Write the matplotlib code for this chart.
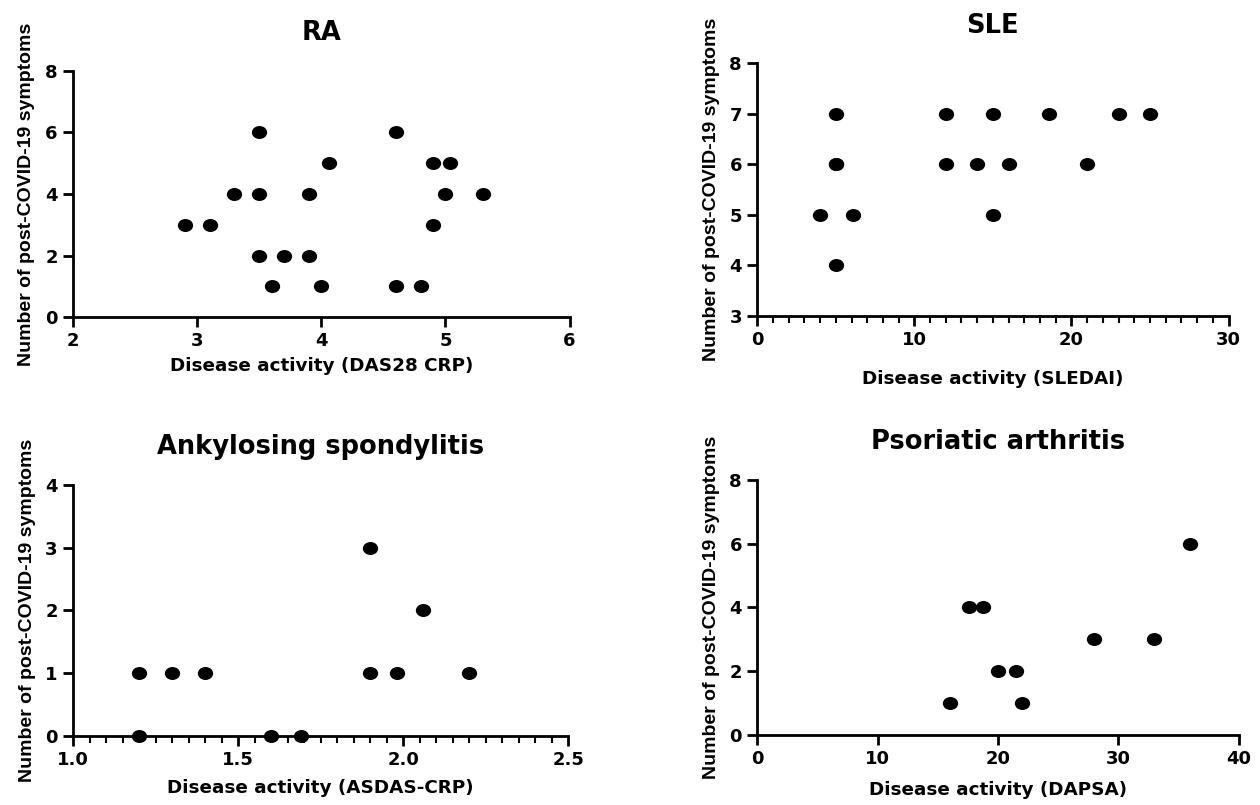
import numpy as np
import matplotlib
matplotlib.use("Agg")
import matplotlib.pyplot as plt
from matplotlib.path import Path
from matplotlib.transforms import Affine2D
from matplotlib.ticker import MultipleLocator, FormatStrFormatter

plt.rcParams['font.family'] = ['DejaVu Sans']

# RA
ra_x = [2.9, 3.1, 3.3, 3.5, 3.5, 3.5, 3.6, 3.7, 3.9, 3.9, 4.0, 4.06,
        4.6, 4.6, 4.8, 4.9, 4.9, 5.0, 5.04, 5.3]
ra_y = [3, 3, 4, 6, 4, 2, 1, 2, 4, 2, 1, 5,
        6, 1, 1, 5, 3, 4, 5, 4]

# SLE
sle_x = [4.0, 5.0, 5.0, 5.0, 5.0, 6.1, 12.0, 12.0, 14.0, 15.0, 15.0,
         16.0, 18.6, 21.0, 23.0, 25.0]
sle_y = [5, 7, 6, 4, 6, 5, 7, 6, 6, 7, 5,
         6, 7, 6, 7, 7]

# Ankylosing spondylitis
as_x = [1.2, 1.2, 1.3, 1.4, 1.6, 1.69, 1.9, 1.9, 1.98, 2.06, 2.2]
as_y = [1, 0, 1, 1, 0, 0, 3, 1, 1, 2, 1]

# Psoriatic arthritis
psa_x = [16.0, 17.6, 18.8, 20.0, 21.5, 22.0, 28.0, 33.0, 36.0]
psa_y = [1, 4, 4, 2, 2, 1, 3, 3, 6]

ylab = "Number of post-COVID-19 symptoms"

# slightly wide dots like the original
dot = Path.unit_circle().transformed(Affine2D().scale(1.2, 1.0))

fig = plt.figure(figsize=(12.6, 8.05), dpi=100)

panels = [
    ([0.058, 0.606, 0.394, 0.306], ra_x, ra_y, "RA", "Disease activity (DAS28 CRP)",
     (2, 6), 1, None, (0, 8), 2, 5),
    ([0.601, 0.6075, 0.374, 0.314], sle_x, sle_y, "SLE", "Disease activity (SLEDAI)",
     (0, 30), 10, 1, (3, 8), 1, 15),
    ([0.058, 0.0857, 0.393, 0.312], as_x, as_y, "Ankylosing spondylitis",
     "Disease activity (ASDAS-CRP)", (1.0, 2.5), 0.5, 0.05, (0, 4), 1, 7),
    ([0.601, 0.087, 0.382, 0.317], psa_x, psa_y, "Psoriatic arthritis",
     "Disease activity (DAPSA)", (0, 40), 10, None, (0, 8), 2, 9),
]

for rect, x, y, title, xlab, xlim, xmaj, xmin, ylim, ymaj, lpad in panels:
    ax = fig.add_axes(rect)
    ax.scatter(x, y, s=100, marker=dot, color='black', zorder=3, clip_on=False)
    ax.set_xlim(xlim)
    ax.set_ylim(ylim)
    ax.xaxis.set_major_locator(MultipleLocator(xmaj))
    ax.yaxis.set_major_locator(MultipleLocator(ymaj))
    if xmin:
        ax.xaxis.set_minor_locator(MultipleLocator(xmin))
    if xlim[1] < 3:
        ax.xaxis.set_major_formatter(FormatStrFormatter('%.1f'))
    for s in ['top', 'right']:
        ax.spines[s].set_visible(False)
    for s in ['left', 'bottom']:
        ax.spines[s].set_linewidth(2)
    ax.tick_params(which='major', length=7, width=2, labelsize=13, pad=4)
    ax.tick_params(which='minor', length=5, width=1.5)
    for lab in ax.get_xticklabels() + ax.get_yticklabels():
        lab.set_fontweight('bold')
    ax.set_title(title, fontsize=18.5, fontweight='bold', pad=22)
    ax.set_xlabel(xlab, fontsize=13.2, fontweight='bold', labelpad=lpad)
    ax.set_ylabel(ylab, fontsize=14, fontweight='bold', labelpad=7,
                  family='Liberation Sans')

fig.savefig("out.png", dpi=100)
